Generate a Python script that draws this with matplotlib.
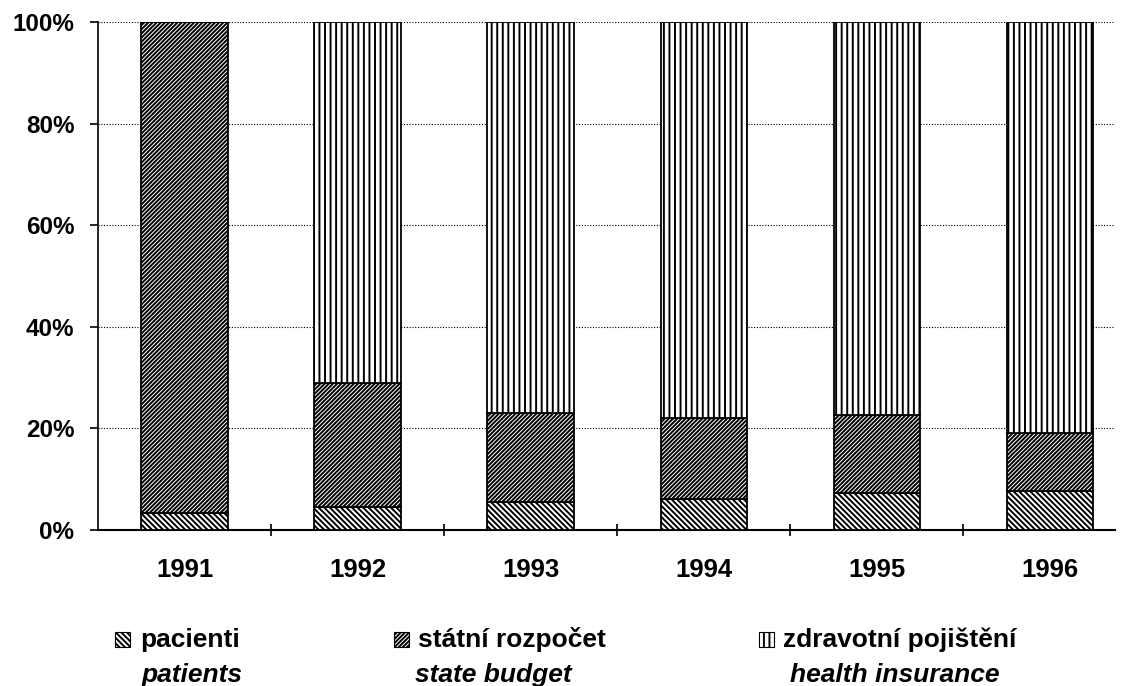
import numpy as np
import matplotlib
matplotlib.use("Agg")
import matplotlib.pyplot as plt
from matplotlib.patches import Rectangle
from matplotlib.ticker import PercentFormatter

plt.rcParams['font.family'] = ['Liberation Sans', 'DejaVu Sans']
plt.rcParams['hatch.linewidth'] = 1.4

years = ['1991', '1992', '1993', '1994', '1995', '1996']
# shares in %
patients = np.array([3.3, 4.5, 5.5, 6.1, 7.3, 7.7])
state_budget = np.array([96.7, 24.4, 17.5, 15.9, 15.3, 11.4])
insurance = 100 - patients - state_budget

labels_cz = ['pacienti', 'státní rozpočet', 'zdravotní pojištění']
labels_en = ['patients', 'state budget', 'health insurance']
hatches = ['\\' * 6, '/' * 8, '|||']

W, H = 1127, 686
fig = plt.figure(figsize=(W / 100, H / 100), dpi=100)
ax = fig.add_axes([98 / W, 1 - 530 / H, 1017 / W, 508 / H])

x = np.arange(len(years))
series = [patients, state_budget, insurance]
bottom = np.zeros(len(years))
for vals, h in zip(series, hatches):
    ax.bar(x, vals, width=0.5, bottom=bottom, color='white', edgecolor='black',
           hatch=h, linewidth=1.3, zorder=3)
    bottom = bottom + vals

ax.set_ylim(0, 100)
ax.set_xlim(-0.5, 5.376)
ax.set_yticks([0, 20, 40, 60, 80, 100])
ax.yaxis.set_major_formatter(PercentFormatter(decimals=0))
ax.set_xticks(x)
ax.set_xticklabels(years)
ax.set_xticks(np.arange(0.5, 5.5, 1), minor=True)
ax.tick_params(axis='x', which='major', length=0, pad=20)
ax.tick_params(axis='x', which='minor', length=9, direction='inout', width=1.2)
ax.tick_params(axis='y', length=6, width=1.2, pad=11)
for lab in ax.get_xticklabels():
    lab.set_fontsize(18.5)
    lab.set_fontweight('bold')
for lab in ax.get_yticklabels():
    lab.set_fontsize(17.5)
    lab.set_fontweight('bold')

ax.grid(axis='y', color='black', linestyle=(0, (1, 1.5)), linewidth=0.8, zorder=0)
ax.spines['top'].set_visible(False)
ax.spines['right'].set_visible(False)
ax.spines['left'].set_linewidth(1.2)
ax.spines['bottom'].set_linewidth(1.5)

# legend drawn by hand
patch_x = [115, 394, 759]
cz_x = [140, 418, 783]
en_x = [142, 415, 790]
for px, cx, ex, h, cz, en in zip(patch_x, cz_x, en_x, hatches, labels_cz, labels_en):
    fig.add_artist(Rectangle((px / W, 1 - 647 / H), 15 / W, 15 / H,
                             transform=fig.transFigure, facecolor='white',
                             edgecolor='black', hatch=h, linewidth=0.8))
    fig.text(cx / W, 1 - 647 / H, cz, fontsize=19, fontweight='bold',
             va='baseline', ha='left')
    fig.text(ex / W, 1 - 682 / H, en, fontsize=19, fontweight='bold',
             fontstyle='italic', va='baseline', ha='left')

fig.savefig('out.png', dpi=100)
